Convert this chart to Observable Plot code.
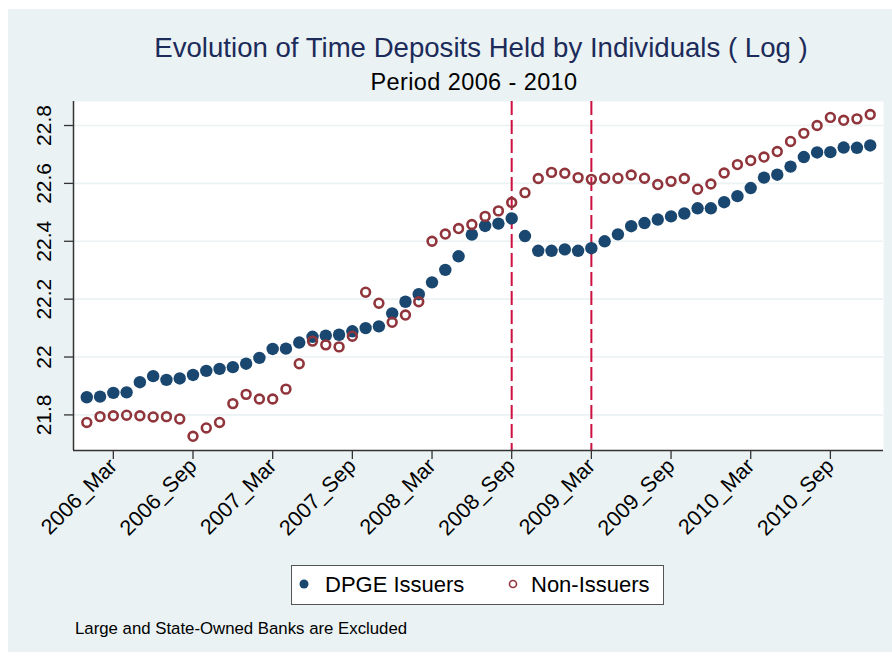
<!DOCTYPE html>
<html>
<head>
<meta charset="utf-8">
<script src="https://cdn.jsdelivr.net/npm/d3@7"></script>
<script src="https://cdn.jsdelivr.net/npm/@observablehq/plot@0.6"></script>
<style>
  html, body { margin: 0; padding: 0; background: #ffffff; }
  #wrap { position: relative; width: 892px; height: 656px; overflow: hidden; font-family: "Liberation Sans", Arial, sans-serif; }
  #bg { position: absolute; left: 8px; top: 9px; right: 0; bottom: 4px; background: #eaf2f3; }
  #chart { position: absolute; left: 0; top: 0; }
  .title { position: absolute; left: 0; width: 962px; text-align: center; white-space: nowrap; }
  #t1 { top: 32px; font-size: 27.6px; color: #1c2b5a; }
  #t2 { top: 69px; font-size: 23.5px; letter-spacing: 0.4px; color: #000; width: 948px; }
  #legend { position: absolute; left: 291px; top: 565px; width: 371px; height: 38px; background: #fff; border: 1.5px solid #555; }
  .li { position: absolute; top: 6px; font-size: 22px; color: #000; white-space: nowrap; }
  #caption { position: absolute; left: 75px; top: 619px; font-size: 16.8px; color: #000; white-space: nowrap; }
</style>
</head>
<body>
<div id="wrap">
  <div id="bg"></div>
  <div id="chart"></div>
  <div class="title" id="t1">Evolution of Time Deposits Held by Individuals ( Log )</div>
  <div class="title" id="t2">Period 2006 - 2010</div>
  <div id="legend"></div>
  <div id="caption">Large and State-Owned Banks are Excluded</div>
</div>
<script>
// ---- Data ----
const years = [2006, 2007, 2008, 2009, 2010];
const monthNames = ["Jan","Feb","Mar","Apr","May","Jun","Jul","Aug","Sep","Oct","Nov","Dec"];
const periods = years.flatMap(y => monthNames.map(m => `${y}_${m}`));

const dpgeIssuers = [
  21.861, 21.863, 21.876, 21.878, 21.913, 21.934, 21.921, 21.926, 21.938, 21.952, 21.959, 21.965,
  21.977, 21.997, 22.028, 22.029, 22.050, 22.070, 22.074, 22.077, 22.089, 22.100, 22.106, 22.151,
  22.191, 22.217, 22.258, 22.301, 22.348, 22.423, 22.453, 22.461, 22.479, 22.418, 22.367, 22.367,
  22.372, 22.367, 22.376, 22.400, 22.424, 22.452, 22.463, 22.475, 22.486, 22.496, 22.514, 22.514,
  22.535, 22.556, 22.584, 22.620, 22.630, 22.658, 22.691, 22.707, 22.708, 22.724, 22.723, 22.731
];
const nonIssuers = [
  21.774, 21.794, 21.797, 21.799, 21.797, 21.793, 21.794, 21.786, 21.726, 21.755, 21.774, 21.839,
  21.871, 21.855, 21.855, 21.889, 21.977, 22.055, 22.042, 22.035, 22.072, 22.224, 22.186, 22.120,
  22.145, 22.191, 22.400, 22.425, 22.444, 22.458, 22.486, 22.505, 22.534, 22.568, 22.617, 22.638,
  22.635, 22.620, 22.614, 22.618, 22.618, 22.629, 22.618, 22.596, 22.607, 22.617, 22.580, 22.598,
  22.636, 22.665, 22.679, 22.691, 22.710, 22.745, 22.773, 22.800, 22.828, 22.818, 22.823, 22.838
];
const tickLabels = ["2006_Mar","2006_Sep","2007_Mar","2007_Sep","2008_Mar","2008_Sep","2009_Mar","2009_Sep","2010_Mar","2010_Sep"];
const yTicks = [21.8, 22.0, 22.2, 22.4, 22.6, 22.8];
const eventPeriods = ["2008_Sep", "2009_Mar"];
const seriesNames = ["DPGE Issuers", "Non-Issuers"];

// ---- Build ----
const idx = p => periods.indexOf(p);
const dataA = periods.map((p, i) => ({i, v: dpgeIssuers[i]}));
const dataB = periods.map((p, i) => ({i, v: nonIssuers[i]}));
const xDomain = [-1, periods.length];
const yDomain = [21.677, 22.883];

const blue = "#1a476f", maroon = "#90353b", crimson = "#cc1040";

const chart = Plot.plot({
  width: 892,
  height: 545,
  marginTop: 101,
  marginBottom: 95,
  marginLeft: 73,
  marginRight: 9,
  style: {background: "transparent", fontFamily: "'Liberation Sans', Arial, sans-serif", color: "#000"},
  x: {type: "linear", domain: xDomain, label: null},
  y: {domain: yDomain, label: null},
  marks: [
    Plot.frame({fill: "white", stroke: null}),
    Plot.gridY(yTicks, {stroke: "#eaf2f3", strokeOpacity: 1, strokeWidth: 1.6}),
    Plot.ruleX(eventPeriods.map(idx), {stroke: crimson, strokeWidth: 2, strokeDasharray: "14,5"}),
    Plot.dot(dataA, {x: "i", y: "v", r: 6.2, fill: blue, stroke: null}),
    Plot.dot(dataB, {x: "i", y: "v", r: 4.4, fill: "none", stroke: maroon, strokeWidth: 2.6}),
    Plot.ruleX([xDomain[0]], {stroke: "#333", strokeWidth: 1.5}),
    Plot.ruleY([yDomain[0]], {stroke: "#333", strokeWidth: 1.5}),
    Plot.axisY(yTicks, {
      anchor: "left", tickSize: 9, tickPadding: 14, tickRotate: -90, label: null,
      fontSize: 21, stroke: "#333", strokeWidth: 1.3,
      tickFormat: d => d === 22 ? "22" : d3.format(".1f")(d)
    }),
    Plot.axisX(tickLabels.map(idx), {
      anchor: "bottom", tickSize: 9, tickPadding: 3, tickRotate: -45, label: null,
      fontSize: 21.5, stroke: "#333", strokeWidth: 1.3,
      tickFormat: i => periods[i]
    })
  ]
});
document.getElementById("chart").appendChild(chart);

// Legend
const lg = document.getElementById("legend");
lg.innerHTML = `
  <svg width="371" height="38" style="position:absolute;left:0;top:0">
    <circle cx="12" cy="18" r="4.5" fill="${blue}"></circle>
    <circle cx="221" cy="18" r="3.5" fill="none" stroke="${maroon}" stroke-width="1.6"></circle>
  </svg>
  <div class="li" style="left:33px">${seriesNames[0]}</div>
  <div class="li" style="left:239px">${seriesNames[1]}</div>`;
</script>
</body>
</html>
